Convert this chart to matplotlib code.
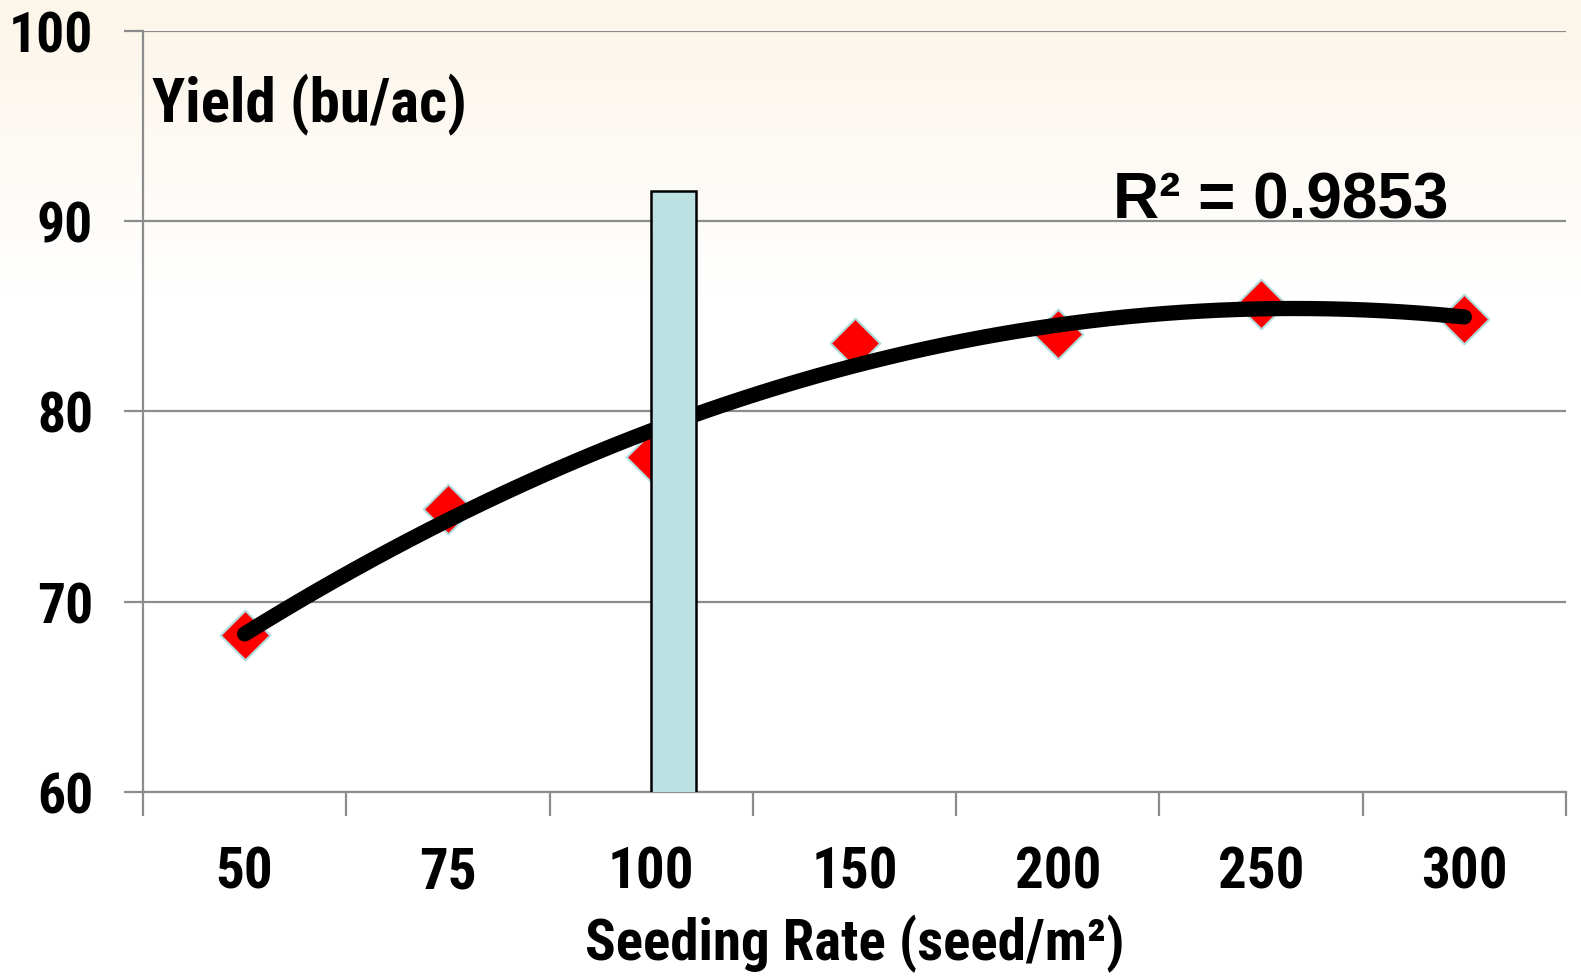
import numpy as np
import matplotlib
matplotlib.use("Agg")
import matplotlib.pyplot as plt
from matplotlib import font_manager

# seeding rate categories and yield readings
rates = ["50", "75", "100", "150", "200", "250", "300"]
yields = [68.25, 74.9, 77.6, 83.6, 84.05, 85.65, 84.85]
bar_rate = "100"
bar_height = 91.6
r2_text = "R\u00b2 = 0.9853"

# pick a narrow face if there is one
names = set(f.name for f in font_manager.fontManager.ttflist)
picked = [n for n in ['Liberation Sans Narrow', 'Arial Narrow', 'Roboto Condensed',
                      'Noto Sans Display', 'Roboto'] if n in names]
plt.rcParams['font.family'] = picked[:1] + ['DejaVu Sans']
plt.rcParams['font.weight'] = 'bold'

fig = plt.figure(figsize=(15.81, 9.79), dpi=100)

# faint cream wash at the top of the slide
bg = fig.add_axes([0, 0, 1, 1], zorder=-10)
grad = np.linspace(0, 1, 300).reshape(-1, 1)
top = np.array([252, 245, 233]) / 255.0
white = np.array([1.0, 1.0, 1.0])
mix = np.clip(grad / 0.3, 0, 1)
img = top[None, None, :] * (1 - mix[..., None]) + white[None, None, :] * mix[..., None]
bg.imshow(img, aspect='auto', extent=[0, 1, 0, 1], origin='upper')
bg.axis('off')

ax = fig.add_axes([143 / 1581, 186 / 979, (1566 - 143) / 1581, (793 - 32) / 979])
ax.patch.set_alpha(0)

x = np.arange(len(rates))
gray = '#8c8c8c'

# trend line (2nd order fit of the points)
coef = np.polyfit(x, yields, 2)
xx = np.linspace(0, len(rates) - 1, 200)
ax.plot(xx, np.polyval(coef, xx), color='black', lw=11, solid_capstyle='round', zorder=4)

ax.scatter(x, yields, marker='D', s=640, color='#ff0000', edgecolor='#b0dde0',
           linewidth=1.5, zorder=3)

ax.bar(rates.index(bar_rate), bar_height, width=0.22, align='edge',
       color='#bde0e3', edgecolor='black', linewidth=1.8, zorder=5)

ax.set_xlim(-0.5, len(rates) - 0.5)
ax.set_ylim(60, 100)
ax.set_yticks([60, 70, 80, 90, 100])
ax.set_xticks(x)
ax.set_xticklabels(rates)
ax.set_xticks(np.arange(-0.5, len(rates), 1), minor=True)

ax.grid(axis='y', color=gray, lw=1.6, zorder=0)
for s in ['top', 'right']:
    ax.spines[s].set_visible(False)
ax.spines['left'].set_color(gray)
ax.spines['left'].set_linewidth(1.6)
ax.spines['bottom'].set_color(gray)
ax.spines['bottom'].set_linewidth(1.6)

ax.tick_params(axis='y', length=14, width=1.6, color=gray, pad=22, labelsize=40)
ax.tick_params(axis='x', which='major', length=0, pad=38, labelsize=41)
ax.tick_params(axis='x', which='minor', length=17, width=1.6, color=gray)

ax.set_xlabel("Seeding Rate (seed/m\u00b2)", fontsize=41, fontweight='bold', labelpad=10)

ax.text(-0.456, 95.27, "Yield (bu/ac)", fontsize=44, va='baseline', ha='left')
ax.text(4.27, 90.22, r2_text, fontsize=46, va='baseline', ha='left',
        family=['Liberation Sans', 'DejaVu Sans'])

fig.savefig("out.png", dpi=100)
